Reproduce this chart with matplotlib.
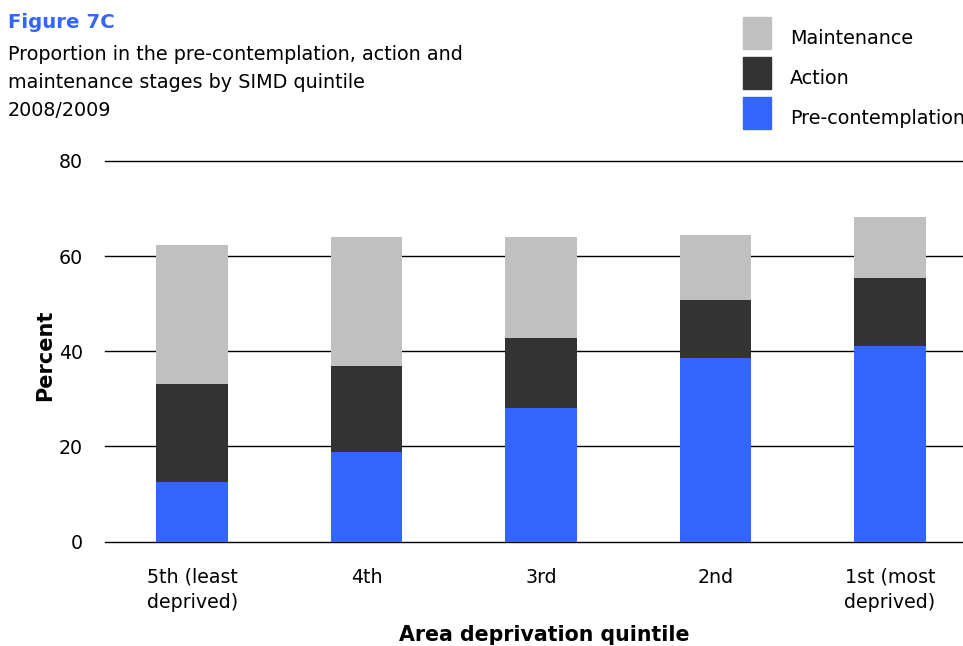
import matplotlib.pyplot as plt
from matplotlib.patches import Rectangle

# stacked percentages by SIMD quintile, 2008/2009
quintiles = ["5th (least\ndeprived)", "4th", "3rd", "2nd", "1st (most\ndeprived)"]
precontemplation = [12.5, 18.9, 28.1, 38.6, 41.1]
action = [20.6, 18.1, 14.7, 12.2, 14.3]
maintenance = [29.3, 27.0, 21.2, 13.7, 12.9]
yticks = [0, 20, 40, 60, 80]

c_pre = "#3366FF"
c_act = "#333333"
c_main = "#C0C0C0"

plt.rcParams["font.family"] = "DejaVu Sans"

fig = plt.figure(figsize=(9.63, 6.46), dpi=100)
W, H = 963, 646

# plot area runs off the right edge of the figure
ax = fig.add_axes([105 / W, 1 - 541.5 / H, (977 - 105) / W, (541.5 - 161) / H])

x = range(len(quintiles))
bw = 0.41
ax.bar(x, precontemplation, bw, color=c_pre, zorder=3)
bottom2 = [a for a in precontemplation]
ax.bar(x, action, bw, bottom=bottom2, color=c_act, zorder=3)
bottom3 = [a + b for a, b in zip(precontemplation, action)]
ax.bar(x, maintenance, bw, bottom=bottom3, color=c_main, zorder=3)

ax.set_xlim(-0.5, 4.5)
ax.set_ylim(0, 80)
ax.set_yticks(yticks)
# gridlines drawn unclipped so the 0 and 80 lines keep full weight
for yv in yticks:
    ax.axhline(yv, color="black", linewidth=1.0, zorder=1, clip_on=False)
for s in ax.spines.values():
    s.set_visible(False)
ax.tick_params(axis="both", length=0, labelsize=13.7)
ax.tick_params(axis="y", pad=16)
ax.tick_params(axis="x", pad=19)
ax.set_xticks(list(x))
ax.set_xticklabels(quintiles, linespacing=1.4)

fig.text(45 / W, 1 - 355 / H, "Percent", fontsize=15, fontweight="bold",
         rotation=90, ha="center", va="center")
fig.text(544 / W, 1 - 635 / H, "Area deprivation quintile", fontsize=14.8,
         fontweight="bold", ha="center", va="center")

# heading
fig.text(8 / W, 1 - 22 / H, "Figure 7C", fontsize=14.2, fontweight="bold",
         color=c_pre, va="center")
fig.text(8 / W, 1 - 54 / H, "Proportion in the pre-contemplation, action and",
         fontsize=13.8, va="center")
fig.text(8 / W, 1 - 82 / H, "maintenance stages by SIMD quintile",
         fontsize=13.8, va="center")
fig.text(8 / W, 1 - 110 / H, "2008/2009", fontsize=13.8, va="center")

# legend built by hand
legend_items = [("Maintenance", c_main, 17), ("Action", c_act, 57),
                ("Pre-contemplation", c_pre, 97)]
for label, col, top in legend_items:
    fig.patches.append(Rectangle((743 / W, 1 - (top + 32) / H), 28 / W, 32 / H,
                                 transform=fig.transFigure, color=col))
    fig.text(790 / W, 1 - (top + 21) / H, label, fontsize=13.8, va="center")

fig.savefig("out.png", dpi=100)
